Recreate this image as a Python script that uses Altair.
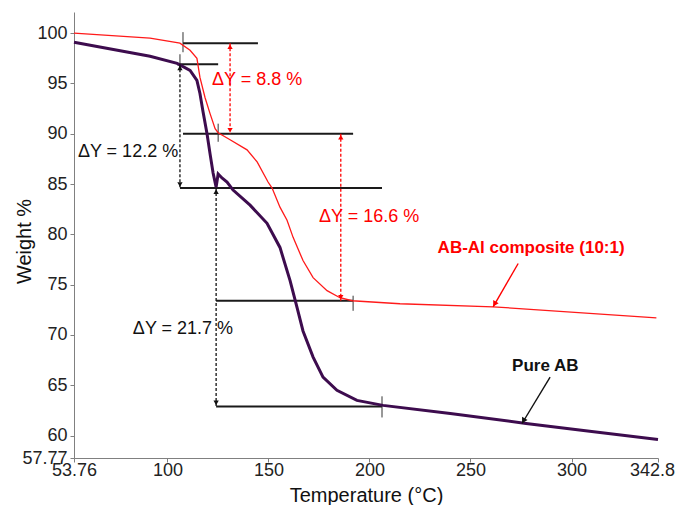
import altair as alt
import pandas as pd

# ---- data ----
ab_T = [53.76, 91.4, 104.8, 111.2, 114.6, 116.1, 117.6, 119.6, 121.1, 122.6, 124.1, 125.1, 127.0, 129.5,
        132.5, 140.9, 149.3, 155.7, 160.7, 164.2, 167.1, 172.1, 177.0, 183.9, 193.8, 206.7, 240.0, 277.5, 310.0, 342.8]
ab_W = [99.1, 97.7, 97.0, 96.3, 95.3, 94.0, 92.2, 90.0, 88.0, 86.1, 84.7, 86.0, 85.6, 85.2,
        84.4, 82.9, 81.1, 78.7, 75.4, 72.7, 70.4, 67.8, 65.8, 64.5, 63.5, 63.0, 62.2, 61.2, 60.4, 59.6]

al_T = [53.76, 91.4, 106.2, 111.2, 114.6, 116.1, 118.6, 121.1, 123.6, 125.1, 131.0, 139.4, 144.4, 149.8,
        151.8, 155.7, 159.2, 162.2, 167.1, 172.1, 179.0, 185.4, 191.4, 215.1, 261.2, 342.0]
al_W = [100.0, 99.5, 99.0, 98.3, 97.5, 95.6, 93.6, 92.0, 90.5, 90.1, 89.4, 88.4, 87.2, 85.2,
        84.6, 82.7, 81.4, 79.7, 77.4, 75.7, 74.4, 73.7, 73.4, 73.1, 72.8, 71.7]

x_ticks = [53.76, 100, 150, 200, 250, 300, 342.8]
y_ticks = [57.77, 60, 65, 70, 75, 80, 85, 90, 95, 100]
x_dom = [53.76, 342.8]
y_dom = [57.77, 102.1]

# horizontal reference segments (x1, x2, y)
seg_x1 = [107.7, 104.8, 107.7, 106.2, 124.1, 124.1]
seg_x2 = [144.8, 125.1, 191.9, 206.2, 191.9, 206.2]
seg_y = [99.0, 96.9, 90.0, 84.6, 73.4, 62.9]

# short vertical marker ticks (x, y1, y2)
vt_x = [107.7, 106.2, 125.1, 191.9, 206.2]
vt_y1 = [100.1, 97.9, 91.0, 73.9, 63.9]
vt_y2 = [98.1, 96.3, 89.2, 72.4, 61.8]

# dashed double arrows (x, y_top, y_bottom, colour)
da_x = [131.0, 185.8, 106.2, 124.1]
da_top = [99.0, 90.0, 96.9, 84.6]
da_bot = [90.0, 73.4, 84.6, 62.9]
da_col = ["#ff0000", "#ff0000", "#111111", "#111111"]

# delta labels
dl_text = ["\u0394Y = 8.8 %", "\u0394Y = 12.2 %", "\u0394Y = 16.6 %", "\u0394Y = 21.7 %"]
dl_x = [144.4, 80.5, 199.8, 107.7]
dl_y = [95.3, 88.2, 81.7, 70.6]
dl_col = ["#ff0000", "#111111", "#ff0000", "#111111"]

# series labels with solid pointer arrows
sl_text = ["AB-Al composite (10:1)", "Pure AB"]
sl_x = [280.0, 287.0]
sl_y = [78.6, 66.9]
sl_col = ["#ff0000", "#111111"]
ar_x1 = [273.6, 289.4]
ar_y1 = [77.1, 65.8]
ar_x2 = [261.2, 275.5]
ar_y2 = [72.8, 61.2]

FONT = "Liberation Sans"
PURPLE = "#3d0c4e"
RED = "#ff1a1a"

xs = alt.Scale(domain=x_dom, nice=False, zero=False)
ys = alt.Scale(domain=y_dom, nice=False, zero=False)

xaxis = alt.Axis(values=x_ticks, labelExpr="datum.value", labelFlush=False, grid=False,
                 title="Temperature (\u00b0C)", titleFontSize=20, titleFontWeight="normal",
                 titleFont=FONT, titleColor="#111111", titlePadding=6,
                 labelFont=FONT, labelFontSize=18, labelColor="#222222",
                 labelOffset=alt.condition("datum.value > 340", alt.value(-6), alt.value(0)),
                 domainColor="#808080", tickColor="#808080", tickSize=4, labelPadding=-1,
                 labelOverlap=False)
yaxis = alt.Axis(values=y_ticks, labelExpr="datum.value", labelFlush=False, grid=False,
                 title="Weight %", titleFontSize=20, titleFontWeight="normal",
                 titleFont=FONT, titleColor="#111111", titleAngle=270, titleBaseline="bottom",
                 titleX=-40, titleY=229, titleAlign="center",
                 labelFont=FONT, labelFontSize=18, labelColor="#222222",
                 domainColor="#808080", tickColor="#808080", tickSize=4, labelPadding=3,
                 labelOverlap=False)

ab_df = pd.DataFrame({"T": ab_T, "W": ab_W})
al_df = pd.DataFrame({"T": al_T, "W": al_W})

base_x = alt.X("T:Q", scale=xs, axis=xaxis)
base_y = alt.Y("W:Q", scale=ys, axis=yaxis)

ab_line = alt.Chart(ab_df).mark_line(color=PURPLE, strokeWidth=3).encode(x=base_x, y=base_y, order="T:Q")
al_line = alt.Chart(al_df).mark_line(color=RED, strokeWidth=1.3).encode(
    x=alt.X("T:Q", scale=xs), y=alt.Y("W:Q", scale=ys), order="T:Q")

seg_df = pd.DataFrame({"x1": seg_x1, "x2": seg_x2, "y": seg_y})
segs = alt.Chart(seg_df).mark_rule(color="#1a1a1a", strokeWidth=2).encode(
    x=alt.X("x1:Q", scale=xs), x2="x2:Q", y=alt.Y("y:Q", scale=ys))

vt_df = pd.DataFrame({"x": vt_x, "y1": vt_y1, "y2": vt_y2})
vticks = alt.Chart(vt_df).mark_rule(color="#333333", strokeWidth=1).encode(
    x=alt.X("x:Q", scale=xs), y=alt.Y("y1:Q", scale=ys), y2="y2:Q")

da_df = pd.DataFrame({"x": da_x, "top": da_top, "bot": da_bot, "c": da_col})
dashed = alt.Chart(da_df).mark_rule(strokeWidth=1.3, strokeDash=[3, 2]).encode(
    x=alt.X("x:Q", scale=xs), y=alt.Y("top:Q", scale=ys), y2="bot:Q",
    color=alt.Color("c:N", scale=None))

head_up = alt.Chart(da_df).transform_calculate(hy="datum.top - 0.35").mark_point(
    shape="triangle-up", filled=True, size=28, opacity=1).encode(
    x=alt.X("x:Q", scale=xs), y=alt.Y("hy:Q", scale=ys), color=alt.Color("c:N", scale=None))
head_dn = alt.Chart(da_df).transform_calculate(hy="datum.bot + 0.35").mark_point(
    shape="triangle-down", filled=True, size=28, opacity=1).encode(
    x=alt.X("x:Q", scale=xs), y=alt.Y("hy:Q", scale=ys), color=alt.Color("c:N", scale=None))

dl_df = pd.DataFrame({"t": dl_text, "x": dl_x, "y": dl_y, "c": dl_col})
dlabels = alt.Chart(dl_df).mark_text(font=FONT, fontSize=18, align="center", baseline="middle").encode(
    x=alt.X("x:Q", scale=xs), y=alt.Y("y:Q", scale=ys), text="t:N", color=alt.Color("c:N", scale=None))

sl_df = pd.DataFrame({"t": sl_text, "x": sl_x, "y": sl_y, "c": sl_col})
slabels = alt.Chart(sl_df).mark_text(font=FONT, fontSize=17, fontWeight="bold", align="center",
                                     baseline="middle").encode(
    x=alt.X("x:Q", scale=xs), y=alt.Y("y:Q", scale=ys), text="t:N", color=alt.Color("c:N", scale=None))

ar_df = pd.DataFrame({"x1": ar_x1, "y1": ar_y1, "x2": ar_x2, "y2": ar_y2, "c": sl_col})
arrows = alt.Chart(ar_df).mark_rule(strokeWidth=1.4).encode(
    x=alt.X("x1:Q", scale=xs), y=alt.Y("y1:Q", scale=ys), x2="x2:Q", y2="y2:Q",
    color=alt.Color("c:N", scale=None))
ar_heads = alt.Chart(ar_df).transform_calculate(
    hx="datum.x2 + 0.7", hy="datum.y2 + 0.27").mark_point(
    shape="triangle-up", filled=True, size=40, opacity=1, angle=210).encode(
    x=alt.X("hx:Q", scale=xs), y=alt.Y("hy:Q", scale=ys), color=alt.Color("c:N", scale=None))

chart = alt.layer(
    segs, vticks, al_line, ab_line, dashed, head_up, head_dn, arrows, ar_heads, dlabels, slabels
).properties(
    width=584, height=446,
    autosize=alt.AutoSizeParams(type="none"),
    padding={"left": 66, "top": 4, "right": 17, "bottom": 47},
    background="white",
).configure_view(stroke=None)

chart.save("out.html", embed_options={"renderer": "svg", "actions": False})
